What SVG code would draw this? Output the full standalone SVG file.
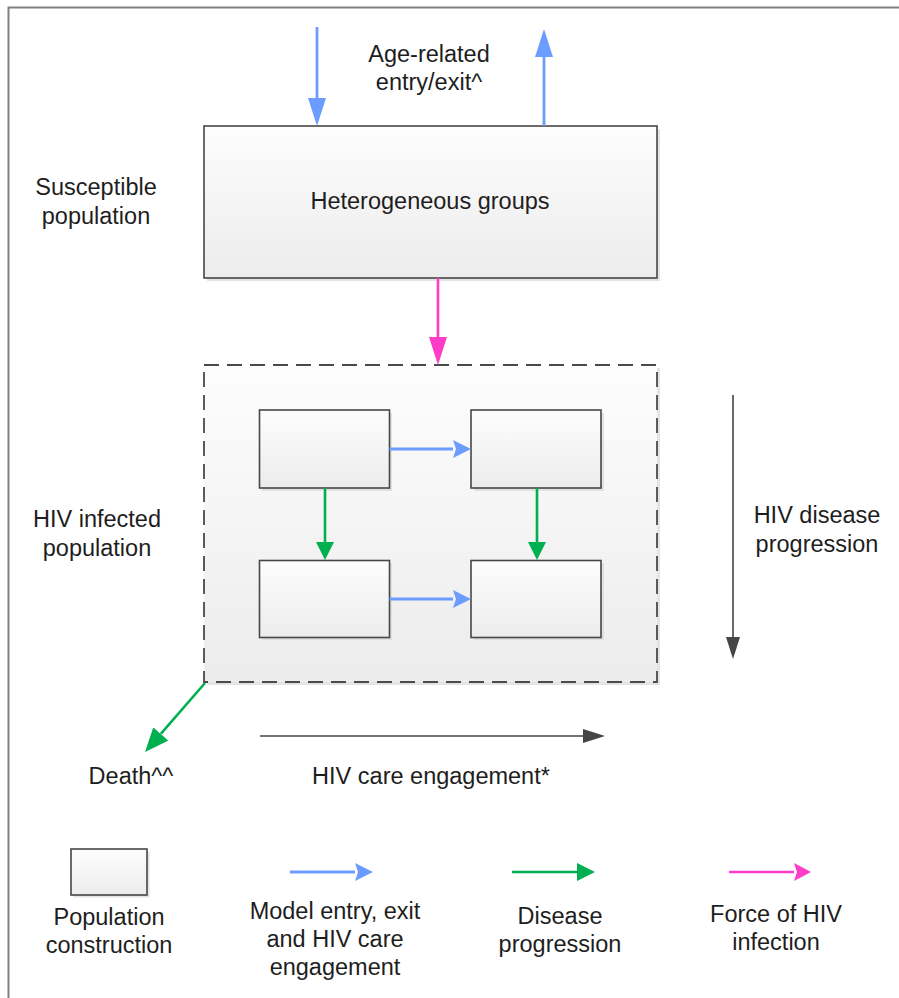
<svg xmlns="http://www.w3.org/2000/svg" width="899" height="998" viewBox="0 0 899 998">
<style>
text{font-family:"Liberation Sans",Arial,sans-serif;font-size:23.5px;fill:#1e1e1e;text-anchor:middle}
.box{fill:url(#g);stroke:#474747;stroke-width:1.6}
.shadow{fill:#d9d9d9;opacity:0.7}
.blue{stroke:#6c9cff;stroke-width:2.8;fill:none}
.green{stroke:#00b050;stroke-width:2.6;fill:none}
.pink{stroke:#ff3cc8;stroke-width:2.6;fill:none}
.black{stroke:#454545;stroke-width:1.6;fill:none}
</style>
<defs>
<linearGradient id="g" x1="0" y1="0" x2="0" y2="1">
<stop offset="0" stop-color="#fdfdfd"/>
<stop offset="1" stop-color="#ececec"/>
</linearGradient>
<marker id="mBlueBig" markerUnits="userSpaceOnUse" viewBox="0 -9 28 18" markerWidth="28" markerHeight="18" refX="0" refY="0" orient="auto"><path d="M0,-9L28,0L0,9z" fill="#6c9cff"/></marker>
<marker id="mBlue" markerUnits="userSpaceOnUse" viewBox="0 -9 18 18" markerWidth="18" markerHeight="18" refX="0" refY="0" orient="auto"><path d="M0,-9L18,0L0,9L3,0z" fill="#6c9cff"/></marker>
<marker id="mGreen" markerUnits="userSpaceOnUse" viewBox="0 -9 18 18" markerWidth="18" markerHeight="18" refX="0" refY="0" orient="auto"><path d="M0,-9L18,0L0,9z" fill="#00b050"/></marker>
<marker id="mGreenBig" markerUnits="userSpaceOnUse" viewBox="0 -10 24 20" markerWidth="24" markerHeight="20" refX="0" refY="0" orient="auto"><path d="M0,-10L24,0L0,10z" fill="#00b050"/></marker>
<marker id="mPinkBig" markerUnits="userSpaceOnUse" viewBox="0 -9 28 18" markerWidth="28" markerHeight="18" refX="0" refY="0" orient="auto"><path d="M0,-9L28,0L0,9z" fill="#ff3cc8"/></marker>
<marker id="mPink" markerUnits="userSpaceOnUse" viewBox="0 -9 17 18" markerWidth="17" markerHeight="18" refX="0" refY="0" orient="auto"><path d="M0,-9L17,0L0,9L3,0z" fill="#ff3cc8"/></marker>
<marker id="mBlack" markerUnits="userSpaceOnUse" viewBox="0 -7 22 14" markerWidth="22" markerHeight="14" refX="0" refY="0" orient="auto"><path d="M0,-7L22,0L0,7z" fill="#454545"/></marker>
</defs>

<path d="M8.5,998V7.5H899" fill="none" stroke="#808080" stroke-width="2"/>

<g id="susceptible-label"><text x="96" y="195">Susceptible</text><text x="96" y="224">population</text></g>
<g id="age-label"><text x="429" y="62">Age-related</text><text x="429" y="90">entry/exit^</text></g>
<g id="heterogeneous-groups">
<rect class="shadow" x="207" y="129" width="453" height="152"/>
<rect class="box" x="204" y="126" width="453" height="152"/>
<text x="430" y="209">Heterogeneous groups</text>
</g>

<g id="hiv-infected-label"><text x="97" y="527">HIV infected</text><text x="97" y="556">population</text></g>
<g id="hiv-infected-container">
<rect class="shadow" x="207" y="368" width="453" height="317"/>
<rect x="204" y="365" width="453" height="317" fill="url(#g)" stroke="#4a4a4a" stroke-width="1.8" stroke-dasharray="15 8"/>
</g>
<g id="state-tl"><rect class="shadow" x="262" y="413" width="130" height="78"/><rect class="box" x="259.5" y="410" width="130" height="78"/></g>
<g id="state-tr"><rect class="shadow" x="474" y="413" width="130" height="78"/><rect class="box" x="471" y="410" width="130" height="78"/></g>
<g id="state-bl"><rect class="shadow" x="262" y="563" width="130" height="77"/><rect class="box" x="259.5" y="560.5" width="130" height="77"/></g>
<g id="state-br"><rect class="shadow" x="474" y="563" width="130" height="77"/><rect class="box" x="471" y="560.5" width="130" height="77"/></g>

<g id="progression-label"><text x="817" y="523">HIV disease</text><text x="817" y="552">progression</text></g>
<g id="death-label"><text x="131" y="784">Death^^</text></g>
<g id="care-label"><text x="431" y="784">HIV care engagement*</text></g>

<g id="connectors">
<line class="blue" x1="317" y1="27" x2="317" y2="98" marker-end="url(#mBlueBig)"/>
<line class="blue" x1="544" y1="126" x2="544" y2="57" marker-end="url(#mBlueBig)"/>
<line class="pink" x1="438" y1="278" x2="438" y2="337" marker-end="url(#mPinkBig)"/>
<line class="blue" x1="389.5" y1="449" x2="453" y2="449" marker-end="url(#mBlue)"/>
<line class="blue" x1="389.5" y1="599" x2="453" y2="599" marker-end="url(#mBlue)"/>
<line class="green" x1="325" y1="488" x2="325" y2="542" marker-end="url(#mGreen)"/>
<line class="green" x1="537" y1="488" x2="537" y2="542" marker-end="url(#mGreen)"/>
<line class="green" x1="205" y1="683" x2="160.8" y2="733.9" marker-end="url(#mGreenBig)"/>
<line class="black" x1="260" y1="736" x2="583" y2="736" marker-end="url(#mBlack)"/>
<line class="black" x1="733" y1="395" x2="733" y2="637" marker-end="url(#mBlack)"/>
</g>

<g id="legend-population">
<rect class="shadow" x="73.5" y="851.5" width="76" height="46"/>
<rect class="box" x="71" y="849" width="76" height="46"/>
<text x="109" y="925">Population</text><text x="109" y="953">construction</text>
</g>
<g id="legend-blue">
<line class="blue" x1="290" y1="872" x2="355" y2="872" marker-end="url(#mBlue)"/>
<text x="335" y="919">Model entry, exit</text><text x="335" y="947">and HIV care</text><text x="335" y="975">engagement</text>
</g>
<g id="legend-green">
<line class="green" x1="512" y1="872" x2="577" y2="872" marker-end="url(#mGreen)"/>
<text x="560" y="924">Disease</text><text x="560" y="952">progression</text>
</g>
<g id="legend-pink">
<line class="pink" x1="729" y1="872" x2="794" y2="872" marker-end="url(#mPink)"/>
<text x="776" y="922">Force of HIV</text><text x="776" y="950">infection</text>
</g>
</svg>
